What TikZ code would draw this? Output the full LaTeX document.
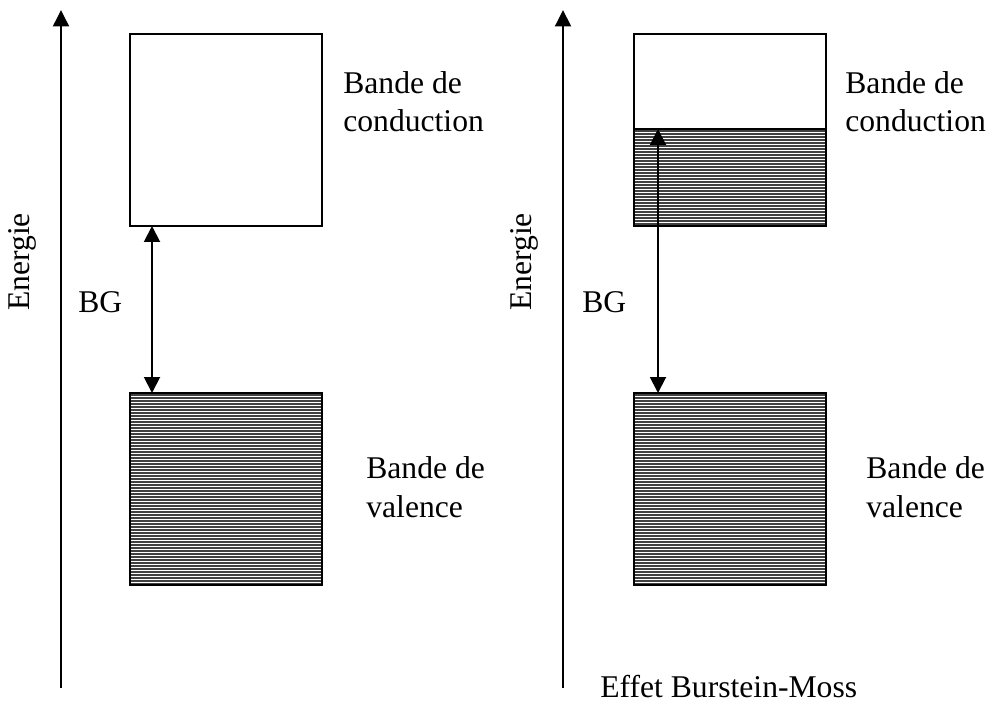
\documentclass[tikz,border=0pt]{standalone}
\usepackage{fontspec}
\setmainfont{Liberation Serif}
\usetikzlibrary{arrows.meta,positioning}

\tikzset{
  axis/.style = {line width=1.1pt, -{Triangle[length=0.33cm,width=0.32cm]}},
  gaparrow/.style = {line width=1.1pt, {Triangle[length=0.32cm,width=0.32cm]}-{Triangle[length=0.32cm,width=0.32cm]}},
  bandbox/.style = {draw, line width=1.1pt, minimum width=3.84cm, minimum height=3.84cm, outer sep=0pt, inner sep=0pt},
  hatch/.style = {black!75, line width=0.8pt},
  label/.style = {font=\fontsize{18}{22}\selectfont, align=left, inner sep=0pt}
}

\begin{document}
\begin{tikzpicture}[x=0.02cm, y=-0.02cm]
\useasboundingbox (0,0) rectangle (990,702);

% left diagram
\coordinate (axLbot) at (61,688);
\coordinate (axLtop) at (61,10);
\draw[axis] (axLbot) -- (axLtop);
\node[label, rotate=90] (enL) at (22,262) {Energie};

\foreach \y in {395,398,...,585}
  \draw[hatch] (130,\y) -- (322,\y);
\node[bandbox] (condL) at (226,130) {};
\node[bandbox] (valL) at (226,489) {};

\coordinate (bgLtop) at (152,226);
\coordinate (bgLbot) at (152,393);
\draw[gaparrow] (bgLtop) -- (bgLbot);
\node[label, anchor=base west] (bgL) at (78,313) {BG};

\node[label, anchor=base west] (condLtxt) at (343,132) {Bande de\\conduction};
\node[label, anchor=base west] (valLtxt) at (366,517) {Bande de\\valence};

% right diagram
\coordinate (axRbot) at (563,688);
\coordinate (axRtop) at (563,10);
\draw[axis] (axRbot) -- (axRtop);
\node[label, rotate=90] (enR) at (524,262) {Energie};

\foreach \y in {131,134,...,226}
  \draw[hatch] (634,\y) -- (826,\y);
\foreach \y in {395,398,...,585}
  \draw[hatch] (634,\y) -- (826,\y);
\draw[line width=1.1pt] (634,129) -- (826,129);
\node[bandbox] (condR) at (730,130) {};
\node[bandbox] (valR) at (730,489) {};

\coordinate (bgRtop) at (658,129);
\coordinate (bgRbot) at (658,393);
\draw[gaparrow] (bgRtop) -- (bgRbot);
\node[label, anchor=base west] (bgR) at (582,313) {BG};

\node[label, anchor=base west] (condRtxt) at (845,132) {Bande de\\conduction};
\node[label, anchor=base west] (valRtxt) at (866,517) {Bande de\\valence};

\node[label, anchor=base west] (title) at (600,697) {Effet Burstein-Moss};
\end{tikzpicture}
\end{document}
